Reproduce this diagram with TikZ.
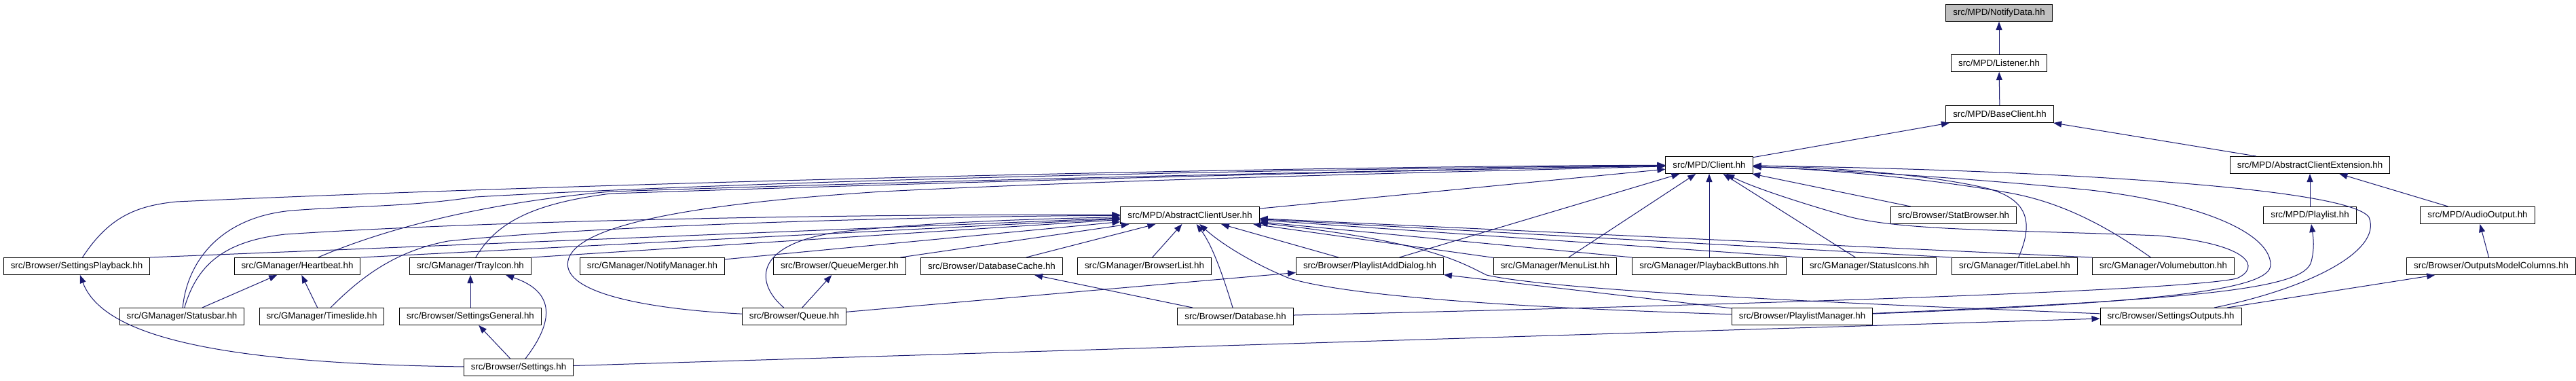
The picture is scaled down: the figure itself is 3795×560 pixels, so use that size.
\documentclass[tikz,border=0pt]{standalone}
\usepackage{fontspec}
\setmainfont{Liberation Sans}
\usepackage{tikz}
\usetikzlibrary{arrows.meta}
\definecolor{edgeblue}{RGB}{25,25,112}

\begin{document}
\begin{tikzpicture}[x=1pt, y=-1pt,
    file/.style={draw, line width=1pt, fill=white, inner xsep=10.5pt, inner ysep=0pt, minimum height=25pt, font=\fontsize{13.3}{16}\selectfont},
    arr/.style={edgeblue, line width=1pt, -{Triangle[length=12pt, width=9pt]}},
  ]
  \useasboundingbox (0,0) rectangle (3795,560);

  \node[file, fill=black!25] (notify) at (2945,19) {src/MPD/NotifyData.hh};
  \node[file] (listener) at (2945,93) {src/MPD/Listener.hh};
  \node[file] (baseclient) at (2946,168) {src/MPD/BaseClient.hh};
  \node[file] (client) at (2518,243) {src/MPD/Client.hh};
  \node[file] (clientext) at (3403,243) {src/MPD/AbstractClientExtension.hh};
  \node[file] (clientuser) at (1753,317) {src/MPD/AbstractClientUser.hh};
  \node[file] (statbrowser) at (2878,317) {src/Browser/StatBrowser.hh};
  \node[file] (playlist) at (3403,317) {src/MPD/Playlist.hh};
  \node[file] (audioout) at (3650,317) {src/MPD/AudioOutput.hh};

  \node[file] (setpb) at (113,392) {src/Browser/SettingsPlayback.hh};
  \node[file] (heartbeat) at (438,392) {src/GManager/Heartbeat.hh};
  \node[file] (trayicon) at (693,392) {src/GManager/TrayIcon.hh};
  \node[file] (notifymgr) at (961,392) {src/GManager/NotifyManager.hh};
  \node[file] (queuemerger) at (1237,392) {src/Browser/QueueMerger.hh};
  \node[file] (dbcache) at (1461,392) {src/Browser/DatabaseCache.hh};
  \node[file] (browserlist) at (1686,392) {src/GManager/BrowserList.hh};
  \node[file] (pladdlg) at (2018,392) {src/Browser/PlaylistAddDialog.hh};
  \node[file] (menulist) at (2291,392) {src/GManager/MenuList.hh};
  \node[file] (pbbuttons) at (2518,392) {src/GManager/PlaybackButtons.hh};
  \node[file] (staticons) at (2754,392) {src/GManager/StatusIcons.hh};
  \node[file] (titlelabel) at (2968,392) {src/GManager/TitleLabel.hh};
  \node[file] (volbutton) at (3187,392) {src/GManager/Volumebutton.hh};
  \node[file] (outcols) at (3670,392) {src/Browser/OutputsModelColumns.hh};

  \node[file] (statusbar) at (268,466) {src/GManager/Statusbar.hh};
  \node[file] (timeslide) at (474,466) {src/GManager/Timeslide.hh};
  \node[file] (setgen) at (693,466) {src/Browser/SettingsGeneral.hh};
  \node[file] (queue) at (1170,466) {src/Browser/Queue.hh};
  \node[file] (database) at (1820,466) {src/Browser/Database.hh};
  \node[file] (plmanager) at (2655,466) {src/Browser/PlaylistManager.hh};
  \node[file] (setout) at (3198,466) {src/Browser/SettingsOutputs.hh};
  \node[file] (settings) at (764,541) {src/Browser/Settings.hh};

  \draw[arr] (listener) -- (notify);
  \draw[arr] (baseclient) -- (listener);
  \draw[arr] (client) -- (baseclient);
  \draw[arr] (clientext) -- (baseclient);
  \draw[arr] (playlist) -- (clientext);
  \draw[arr] (audioout) -- (clientext);
  \draw[arr] (outcols) -- (audioout);
  \draw[arr] (setout) -- (outcols);

  \draw[arr] (clientuser) -- (client);
  \draw[arr] (statbrowser) -- (client);
  \draw[arr] (pladdlg) -- (client);
  \draw[arr] (menulist) -- (client);
  \draw[arr] (pbbuttons) -- (client);
  \draw[arr] (staticons) -- (client);
  \draw[arr] (titlelabel) .. controls (2995,330) and (2990,295) .. (2930,278) .. controls (2850,258) and (2700,246) .. (client);
  \draw[arr] (volbutton) .. controls (3120,345) and (3050,300) .. (2960,284) .. controls (2850,264) and (2700,250) .. (client);
  \draw[arr] (database) .. controls (2300,455) and (3200,432) .. (3295,410) .. controls (3330,395) and (3320,360) .. (3180,347) .. controls (2950,338) and (2800,340) .. (2720,318) .. controls (2650,298) and (2580,275) .. (client);
  \draw[arr] (plmanager) .. controls (3200,445) and (3345,425) .. (3345,390) .. controls (3345,345) and (3250,300) .. (3080,280) .. controls (2900,262) and (2700,250) .. (client);
  \draw[arr] (setout) .. controls (3400,425) and (3510,370) .. (3490,320) .. controls (3460,275) and (3000,250) .. (client);
  \draw[arr] (queue) .. controls (950,455) and (820,430) .. (838,380) .. controls (860,320) and (1100,295) .. (1300,282) .. controls (1700,262) and (2200,252) .. (client);
  \draw[arr] (setpb) .. controls (160,320) and (200,303) .. (260,297) .. controls (900,268) and (1900,245) .. (client);
  \draw[arr] (statusbar) .. controls (275,390) and (320,320) .. (430,310) .. controls (520,303) and (600,305) .. (700,290) .. controls (1200,262) and (2000,248) .. (client);
  \draw[arr] (heartbeat) .. controls (560,340) and (700,300) .. (900,282) .. controls (1500,262) and (2100,250) .. (client);
  \draw[arr] (trayicon) .. controls (730,330) and (780,300) .. (900,285) .. controls (1500,265) and (2100,250) .. (client);

  \draw[arr] (setpb.north east) -- (clientuser);
  \draw[arr] (statusbar) .. controls (290,390) and (330,355) .. (420,345) .. controls (800,320) and (1400,315) .. (clientuser);
  \draw[arr] (heartbeat.north east) -- (clientuser);
  \draw[arr] (timeslide) .. controls (530,410) and (580,370) .. (660,355) .. controls (900,330) and (1400,318) .. (clientuser);
  \draw[arr] (trayicon.north east) -- (clientuser);
  \draw[arr] (notifymgr) -- (clientuser);
  \draw[arr] (queuemerger) -- (clientuser);
  \draw[arr] (queue) .. controls (1110,415) and (1110,355) .. (1250,340) .. controls (1400,325) and (1550,322) .. (clientuser);
  \draw[arr] (dbcache) -- (clientuser);
  \draw[arr] (browserlist) -- (clientuser);
  \draw[arr] (database) .. controls (1800,400) and (1785,360) .. (clientuser);
  \draw[arr] (pladdlg) -- (clientuser);
  \draw[arr] (plmanager) .. controls (2300,455) and (2000,440) .. (1900,410) .. controls (1850,390) and (1800,360) .. (clientuser);
  \draw[arr] (menulist) -- (clientuser);
  \draw[arr] (pbbuttons.north west) -- (clientuser);
  \draw[arr] (staticons.north west) -- (clientuser);
  \draw[arr] (titlelabel.north west) -- (clientuser);
  \draw[arr] (volbutton.north west) -- (clientuser);
  \draw[arr] (setout) .. controls (2800,450) and (2300,430) .. (2190,405) .. controls (2150,385) and (2100,355) .. (clientuser);

  \draw[arr] (statusbar) -- (heartbeat);
  \draw[arr] (timeslide) -- (heartbeat);
  \draw[arr] (setgen) -- (trayicon);
  \draw[arr] (settings) .. controls (815,475) and (820,430) .. (trayicon.-14);
  \draw[arr] (settings) -- (setgen);
  \draw[arr] (settings) .. controls (300,535) and (150,490) .. (setpb);
  \draw[arr] (settings) -- (setout);
  \draw[arr] (queue) -- (queuemerger);
  \draw[arr] (queue) -- (pladdlg);
  \draw[arr] (database) -- (dbcache);
  \draw[arr] (plmanager) -- (pladdlg);
  \draw[arr] (plmanager) .. controls (3250,440) and (3395,425) .. (3405,385) .. controls (3410,365) and (3408,350) .. (playlist);
\end{tikzpicture}
\end{document}
